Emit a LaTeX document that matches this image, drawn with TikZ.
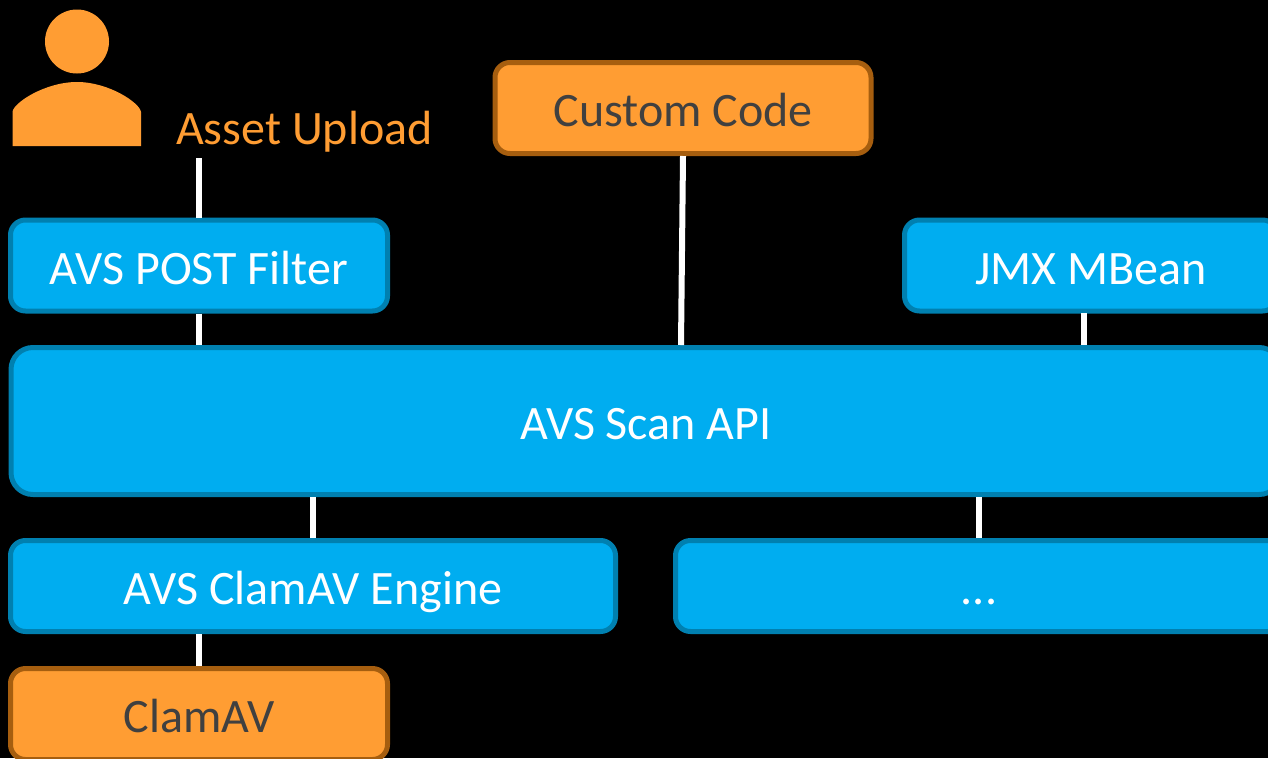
\documentclass[tikz,border=0pt]{standalone}
\usepackage{fontspec}
\setmainfont{Carlito}
\definecolor{bluefill}{HTML}{00ADF0}
\definecolor{blueline}{HTML}{0080B0}
\definecolor{orangefill}{HTML}{FF9D33}
\definecolor{orangeline}{HTML}{A65E0F}
\definecolor{darktext}{HTML}{404040}
\tikzset{
  boxbase/.style={rounded corners=15pt,line width=5pt,inner sep=0pt,
    text height=37.5pt,text depth=0pt,align=center,
    font=\fontsize{48}{52}\selectfont},
  bluebox/.style={boxbase,draw=blueline,fill=bluefill,text=white},
  orangebox/.style={boxbase,draw=orangeline,fill=orangefill,text=darktext},
  link/.style={draw=white,line width=6pt}
}
\begin{document}
\begin{tikzpicture}[x=1pt,y=-1pt]
\useasboundingbox (0,0) rectangle (1268,758);
\fill[black] (0,0) rectangle (1268,758);
\clip (0,0) rectangle (1268,758);
% person
\node[circle,fill=orangefill,inner sep=0pt,minimum size=64pt] (head) at (77,41.5) {};
\fill[orangefill] (12.5,146) -- (12.5,112) .. controls (13,103) and (45,82) .. (77,82) .. controls (109,82) and (140,103) .. (141,112) -- (141,146) -- cycle;
\node[anchor=base west,inner sep=0pt,text=orangefill,font=\fontsize{48}{52}\selectfont] (upload) at (176,144) {Asset Upload};
\coordinate (uploadend) at (199,158);
% boxes
\node[orangebox,minimum width=376pt,minimum height=91pt] (custom) at (683,108) {Custom Code};
\node[bluebox,minimum width=377pt,minimum height=91pt] (post) at (199,265.5) {AVS POST Filter};
\node[bluebox,minimum width=373pt,minimum height=91pt] (jmx) at (1091,265.5) {JMX MBean};
\node[bluebox,rounded corners=22pt,minimum width=1270pt,minimum height=147pt] (scan) at (646,421) {AVS Scan API};
\node[bluebox,minimum width=605pt,minimum height=91pt] (engine) at (313,586) {AVS ClamAV Engine};
\node[bluebox,minimum width=607pt,minimum height=91pt] (other) at (979,586) {...};
\node[orangebox,minimum width=377pt,minimum height=91pt] (clam) at (199,714) {ClamAV};
% connectors
\draw[link] (uploadend) -- (uploadend |- post.north);
\draw[link] (post.south -| uploadend) -- (scan.north -| uploadend);
\draw[link] (custom.south) -- ([xshift=-2pt]scan.north -| custom.south);
\coordinate (jmxx) at (1084,313);
\draw[link] (jmxx) -- (scan.north -| jmxx);
\draw[link] (scan.south -| engine.north) -- (engine.north);
\coordinate (otherx) at (979,497);
\draw[link] (otherx) -- (other.north);
\draw[link] (engine.south -| uploadend) -- (clam.north -| uploadend);
\end{tikzpicture}
\end{document}
